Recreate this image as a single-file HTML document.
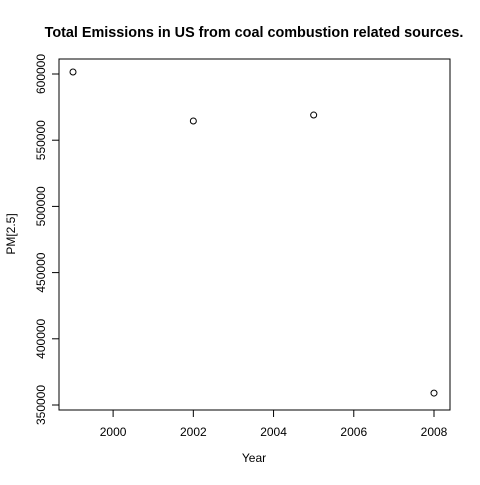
<!DOCTYPE html>
<html><head><meta charset="utf-8"><style>
body{margin:0;background:#fff;}
svg text{font-family:"Liberation Sans",Arial,sans-serif;fill:#000;}
</style></head><body>
<svg width="480" height="480" xmlns="http://www.w3.org/2000/svg">
<text x="254" y="37" text-anchor="middle" font-size="14.4" font-weight="bold">Total Emissions in US from coal combustion related sources.</text>
<rect x="59" y="59" width="391" height="351" fill="none" stroke="#000" stroke-width="1"/>
<g id="axes"></g>
<g id="pts"></g>
<text x="254" y="462" text-anchor="middle" font-size="12">Year</text>
<text transform="translate(15,234) rotate(-90)" text-anchor="middle" font-size="12">PM[2.5]</text>
</svg>
<script>
const years=[1999,2002,2005,2008];
const emissions=[601500,564500,569000,359000];
const xTicks=[2000,2002,2004,2006,2008];
const yTicks=[350000,400000,450000,500000,550000,600000];
const NS='http://www.w3.org/2000/svg';
function xs(v){return 73+(v-1999)*(434-73)/9;}
function ys(v){return 405-(v-350000)*331/250000;}
function mk(t,a,p){const e=document.createElementNS(NS,t);for(const k in a)e.setAttribute(k,a[k]);p.appendChild(e);return e;}
const ax=document.getElementById('axes');
mk('line',{x1:xs(2000),x2:xs(2008),y1:410,y2:410,stroke:'#000'},ax);
xTicks.forEach(t=>{
  const l=mk('line',{x1:xs(t),x2:xs(t),y1:410,y2:417,stroke:'#000'},ax);
  
  
  const tx=mk('text',{x:xs(t),y:436,'text-anchor':'middle','font-size':12},ax);
  tx.textContent=t;
  
  
});
mk('line',{x1:59,x2:59,y1:ys(350000),y2:ys(600000),stroke:'#000'},ax);
yTicks.forEach(t=>{
  const l=mk('line',{x1:52,x2:59,y1:ys(t),y2:ys(t),stroke:'#000'},ax);
  
  
  const tx=mk('text',{transform:'translate(45,'+ys(t)+') rotate(-90)','text-anchor':'middle','font-size':12},ax);
  tx.textContent=t;
  
  
});
const pg=document.getElementById('pts');
years.forEach((y,i)=>{
  const c=mk('circle',{cx:xs(y),cy:ys(emissions[i]),r:3,fill:'none',stroke:'#000','stroke-width':1},pg);
  
  
});
</script>
</body></html>
